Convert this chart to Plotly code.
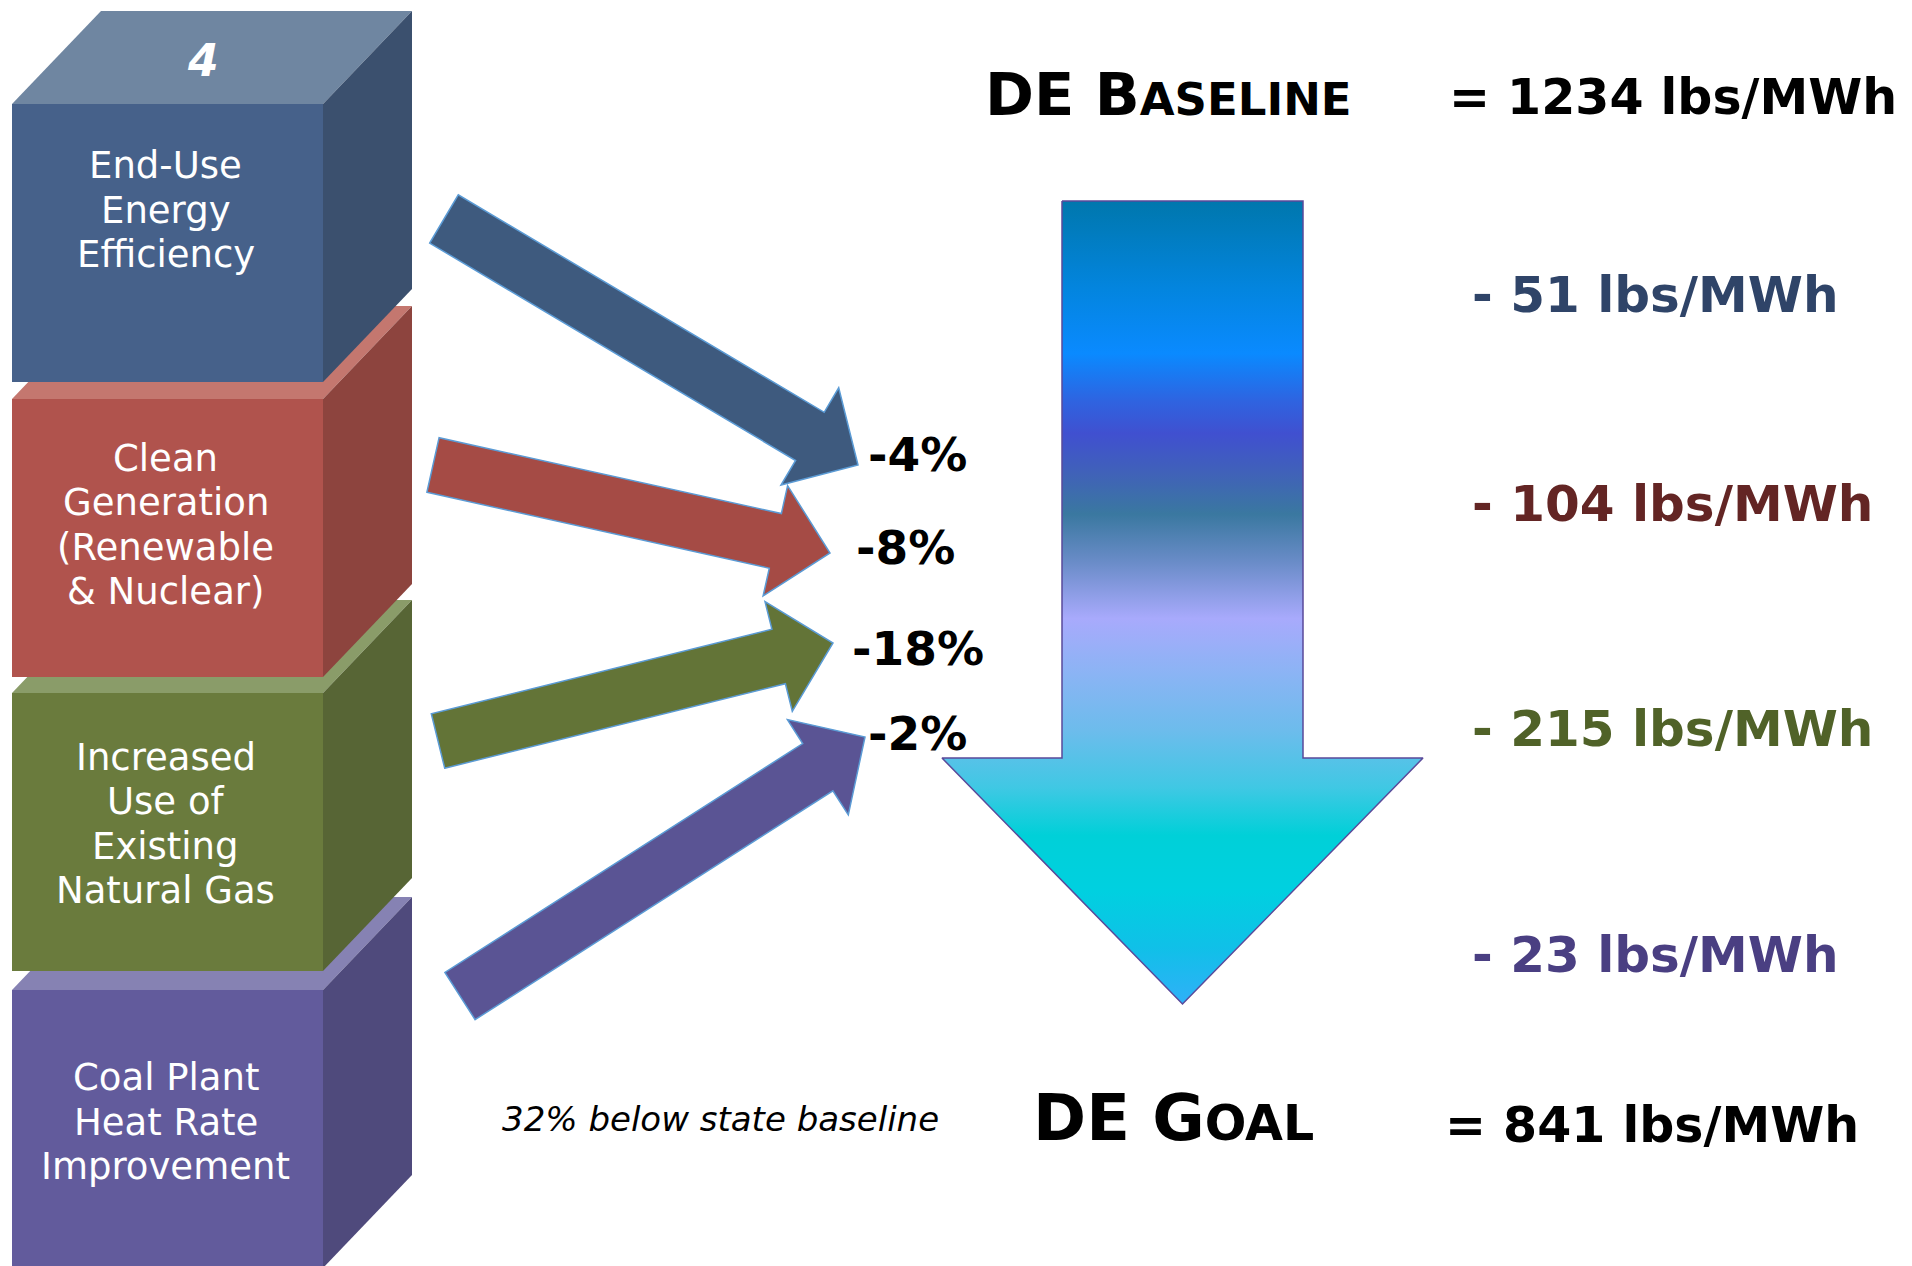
import numpy as np
import plotly.graph_objects as go

# ---------------- data ----------------
strategies = [
    ["End-Use", "Energy", "Efficiency"],
    ["Clean", "Generation", "(Renewable", "& Nuclear)"],
    ["Increased", "Use of", "Existing", "Natural Gas"],
    ["Coal Plant", "Heat Rate", "Improvement"],
]
percent_cuts = [-4, -8, -18, -2]
lbs_cuts = [51, 104, 215, 23]
baseline_lbs = 1234
goal_lbs = 841
goal_note = "32% below state baseline"
step_number = "4"

# ---------------- styles ----------------
front_colors = ["#46618A", "#B0534D", "#6A7B3D", "#625B9C"]
top_colors = ["#6F86A1", "#C4776F", "#8A9C69", "#8682B3"]
side_colors = ["#3B506E", "#8D443E", "#576535", "#4F4A7C"]
arrow_colors = ["#3E5A7E", "#A54B45", "#637437", "#5A5494"]
label_colors = ["#2F4468", "#632524", "#506228", "#4A3F82"]
ARROW_EDGE = "#5B9BD5"

# ---------------- layout geometry (pixels) ----------------
W, H = 1912, 1266
CUBE_X0, CUBE_X1 = 12, 323
DEPTH_X, DEPTH_Y = 89, 93
CUBE_H = 278
cube_tops = [104, 399, 693, 990]
cube_text_y = [210, 525, 824, 1122]
LINE_STEP = 44.5
arrow_tails = [(444, 219), (433, 465), (438, 741), (460, 996)]
arrow_tips = [(858, 465), (830, 553), (833, 643), (865, 737)]
SHAFT_W, HEAD_W, HEAD_L = 56, 113, 56
pct_x = [866, 854, 850, 866]
pct_y = [454, 547, 648, 733]
label_x = 1470
label_y = [295, 504, 729, 955]

BIG = dict(shaft_l=1062, shaft_r=1303, top=201, shoulder=758,
           head_l=942, head_r=1423, tip_y=1004)
big_grad = [
    (0.00, "#0077AD"), (0.11, "#0385DF"), (0.19, "#0A8AFF"),
    (0.25, "#2F63E0"), (0.29, "#4050D0"), (0.34, "#4062B8"),
    (0.39, "#3A78A0"), (0.45, "#6A8CC8"), (0.52, "#A8AAFC"),
    (0.59, "#8AB4F4"), (0.66, "#6CBCEC"), (0.73, "#40C8E4"),
    (0.79, "#00D0D8"), (0.86, "#00D0E0"), (0.93, "#10C0E8"),
    (1.00, "#30B0F8"),
]

fig = go.Figure()
shapes = []


def path_of(pts):
    return "M " + " L ".join(f"{x:.1f},{y:.1f}" for x, y in pts) + " Z"


# cubes: draw bottom first so upper cubes sit in front
for i in reversed(range(len(strategies))):
    t = cube_tops[i]
    b = t + CUBE_H
    top_face = [(CUBE_X0, t), (CUBE_X0 + DEPTH_X, t - DEPTH_Y),
                (CUBE_X1 + DEPTH_X, t - DEPTH_Y), (CUBE_X1, t)]
    side_face = [(CUBE_X1, t), (CUBE_X1 + DEPTH_X, t - DEPTH_Y),
                 (CUBE_X1 + DEPTH_X, b - DEPTH_Y), (CUBE_X1, b)]
    front_face = [(CUBE_X0, t), (CUBE_X1, t), (CUBE_X1, b), (CUBE_X0, b)]
    for pts, col in ((top_face, top_colors[i]), (side_face, side_colors[i]),
                     (front_face, front_colors[i])):
        shapes.append(dict(type="path", path=path_of(pts), xref="x", yref="y",
                           fillcolor=col, line=dict(width=0), layer="below"))


def arrow_poly(tail, tip):
    t = np.array(tail, float)
    p = np.array(tip, float)
    d = p - t
    u = d / np.linalg.norm(d)
    n = np.array([-u[1], u[0]])
    base = p - u * HEAD_L
    return [t + n * SHAFT_W / 2, base + n * SHAFT_W / 2, base + n * HEAD_W / 2,
            p, base - n * HEAD_W / 2, base - n * SHAFT_W / 2, t - n * SHAFT_W / 2]


for i in range(len(strategies)):
    shapes.append(dict(type="path", path=path_of(arrow_poly(arrow_tails[i], arrow_tips[i])),
                       xref="x", yref="y", fillcolor=arrow_colors[i],
                       line=dict(color=ARROW_EDGE, width=1.5), layer="above"))

# big gradient arrow
cx = (BIG["shaft_l"] + BIG["shaft_r"]) / 2
big_pts = [(BIG["shaft_l"], BIG["top"]), (BIG["shaft_r"], BIG["top"]),
           (BIG["shaft_r"], BIG["shoulder"]), (BIG["head_r"], BIG["shoulder"]),
           (cx, BIG["tip_y"]), (BIG["head_l"], BIG["shoulder"]),
           (BIG["shaft_l"], BIG["shoulder"]), (BIG["shaft_l"], BIG["top"])]
fig.add_trace(go.Scatter(
    x=[p[0] for p in big_pts], y=[p[1] for p in big_pts],
    mode="lines", fill="toself",
    fillgradient=dict(type="vertical", colorscale=big_grad,
                      start=BIG["top"], stop=BIG["tip_y"]),
    line=dict(color="#5A4A9A", width=1.5), hoverinfo="skip",
))

annotations = []
BODY = "DejaVu Sans, Verdana, sans-serif"
TITLE = "DejaVu Sans, sans-serif"

for i, lines in enumerate(strategies):
    n = len(lines)
    for k, line in enumerate(lines):
        annotations.append(dict(x=(CUBE_X0 + CUBE_X1) / 2 - 2,
                                y=cube_text_y[i] + (k - (n - 1) / 2) * LINE_STEP,
                                text=line, showarrow=False, xanchor="center", yanchor="middle",
                                font=dict(family=BODY, size=37, color="white")))

annotations.append(dict(x=(CUBE_X0 + CUBE_X1) / 2 + 35, y=cube_tops[0] - 44,
                        text=f"<b><i>{step_number}</i></b>", showarrow=False,
                        xanchor="center", yanchor="middle",
                        font=dict(family=BODY, size=44, color="white")))

for i, v in enumerate(percent_cuts):
    annotations.append(dict(x=pct_x[i], y=pct_y[i], text=f"<b>{v}%</b>", showarrow=False,
                            xanchor="left", yanchor="middle",
                            font=dict(family=BODY, size=47, color="black")))

for i, v in enumerate(lbs_cuts):
    annotations.append(dict(x=label_x, y=label_y[i], text=f"<b>- {v} lbs/MWh</b>",
                            showarrow=False, xanchor="left", yanchor="middle",
                            font=dict(family=BODY, size=50, color=label_colors[i])))

annotations.append(dict(x=983, y=94,
                        text="<b>DE B<span style='font-size:45px'>ASELINE</span></b>",
                        showarrow=False, xanchor="left", yanchor="middle",
                        font=dict(family=TITLE, size=59, color="black")))
annotations.append(dict(x=1447, y=97, text=f"<b>= {baseline_lbs} lbs/MWh</b>",
                        showarrow=False, xanchor="left", yanchor="middle",
                        font=dict(family=BODY, size=49, color="black")))
annotations.append(dict(x=1031, y=1118,
                        text="<b>DE G<span style='font-size:49px'>OAL</span></b>",
                        showarrow=False, xanchor="left", yanchor="middle",
                        font=dict(family=TITLE, size=64, color="black")))
annotations.append(dict(x=1443, y=1125, text=f"<b>= {goal_lbs} lbs/MWh</b>",
                        showarrow=False, xanchor="left", yanchor="middle",
                        font=dict(family=BODY, size=49, color="black")))
annotations.append(dict(x=500, y=1119, text=f"<i>{goal_note}</i>",
                        showarrow=False, xanchor="left", yanchor="middle",
                        font=dict(family=BODY, size=34, color="black")))

fig.update_layout(
    width=W, height=H, autosize=False,
    margin=dict(l=0, r=0, t=0, b=0, pad=0),
    paper_bgcolor="white", plot_bgcolor="white",
    xaxis=dict(range=[0, W], visible=False, fixedrange=True),
    yaxis=dict(range=[H, 0], visible=False, fixedrange=True),
    showlegend=False, shapes=shapes, annotations=annotations,
)

fig.write_html("out.html", config={"displayModeBar": False})
